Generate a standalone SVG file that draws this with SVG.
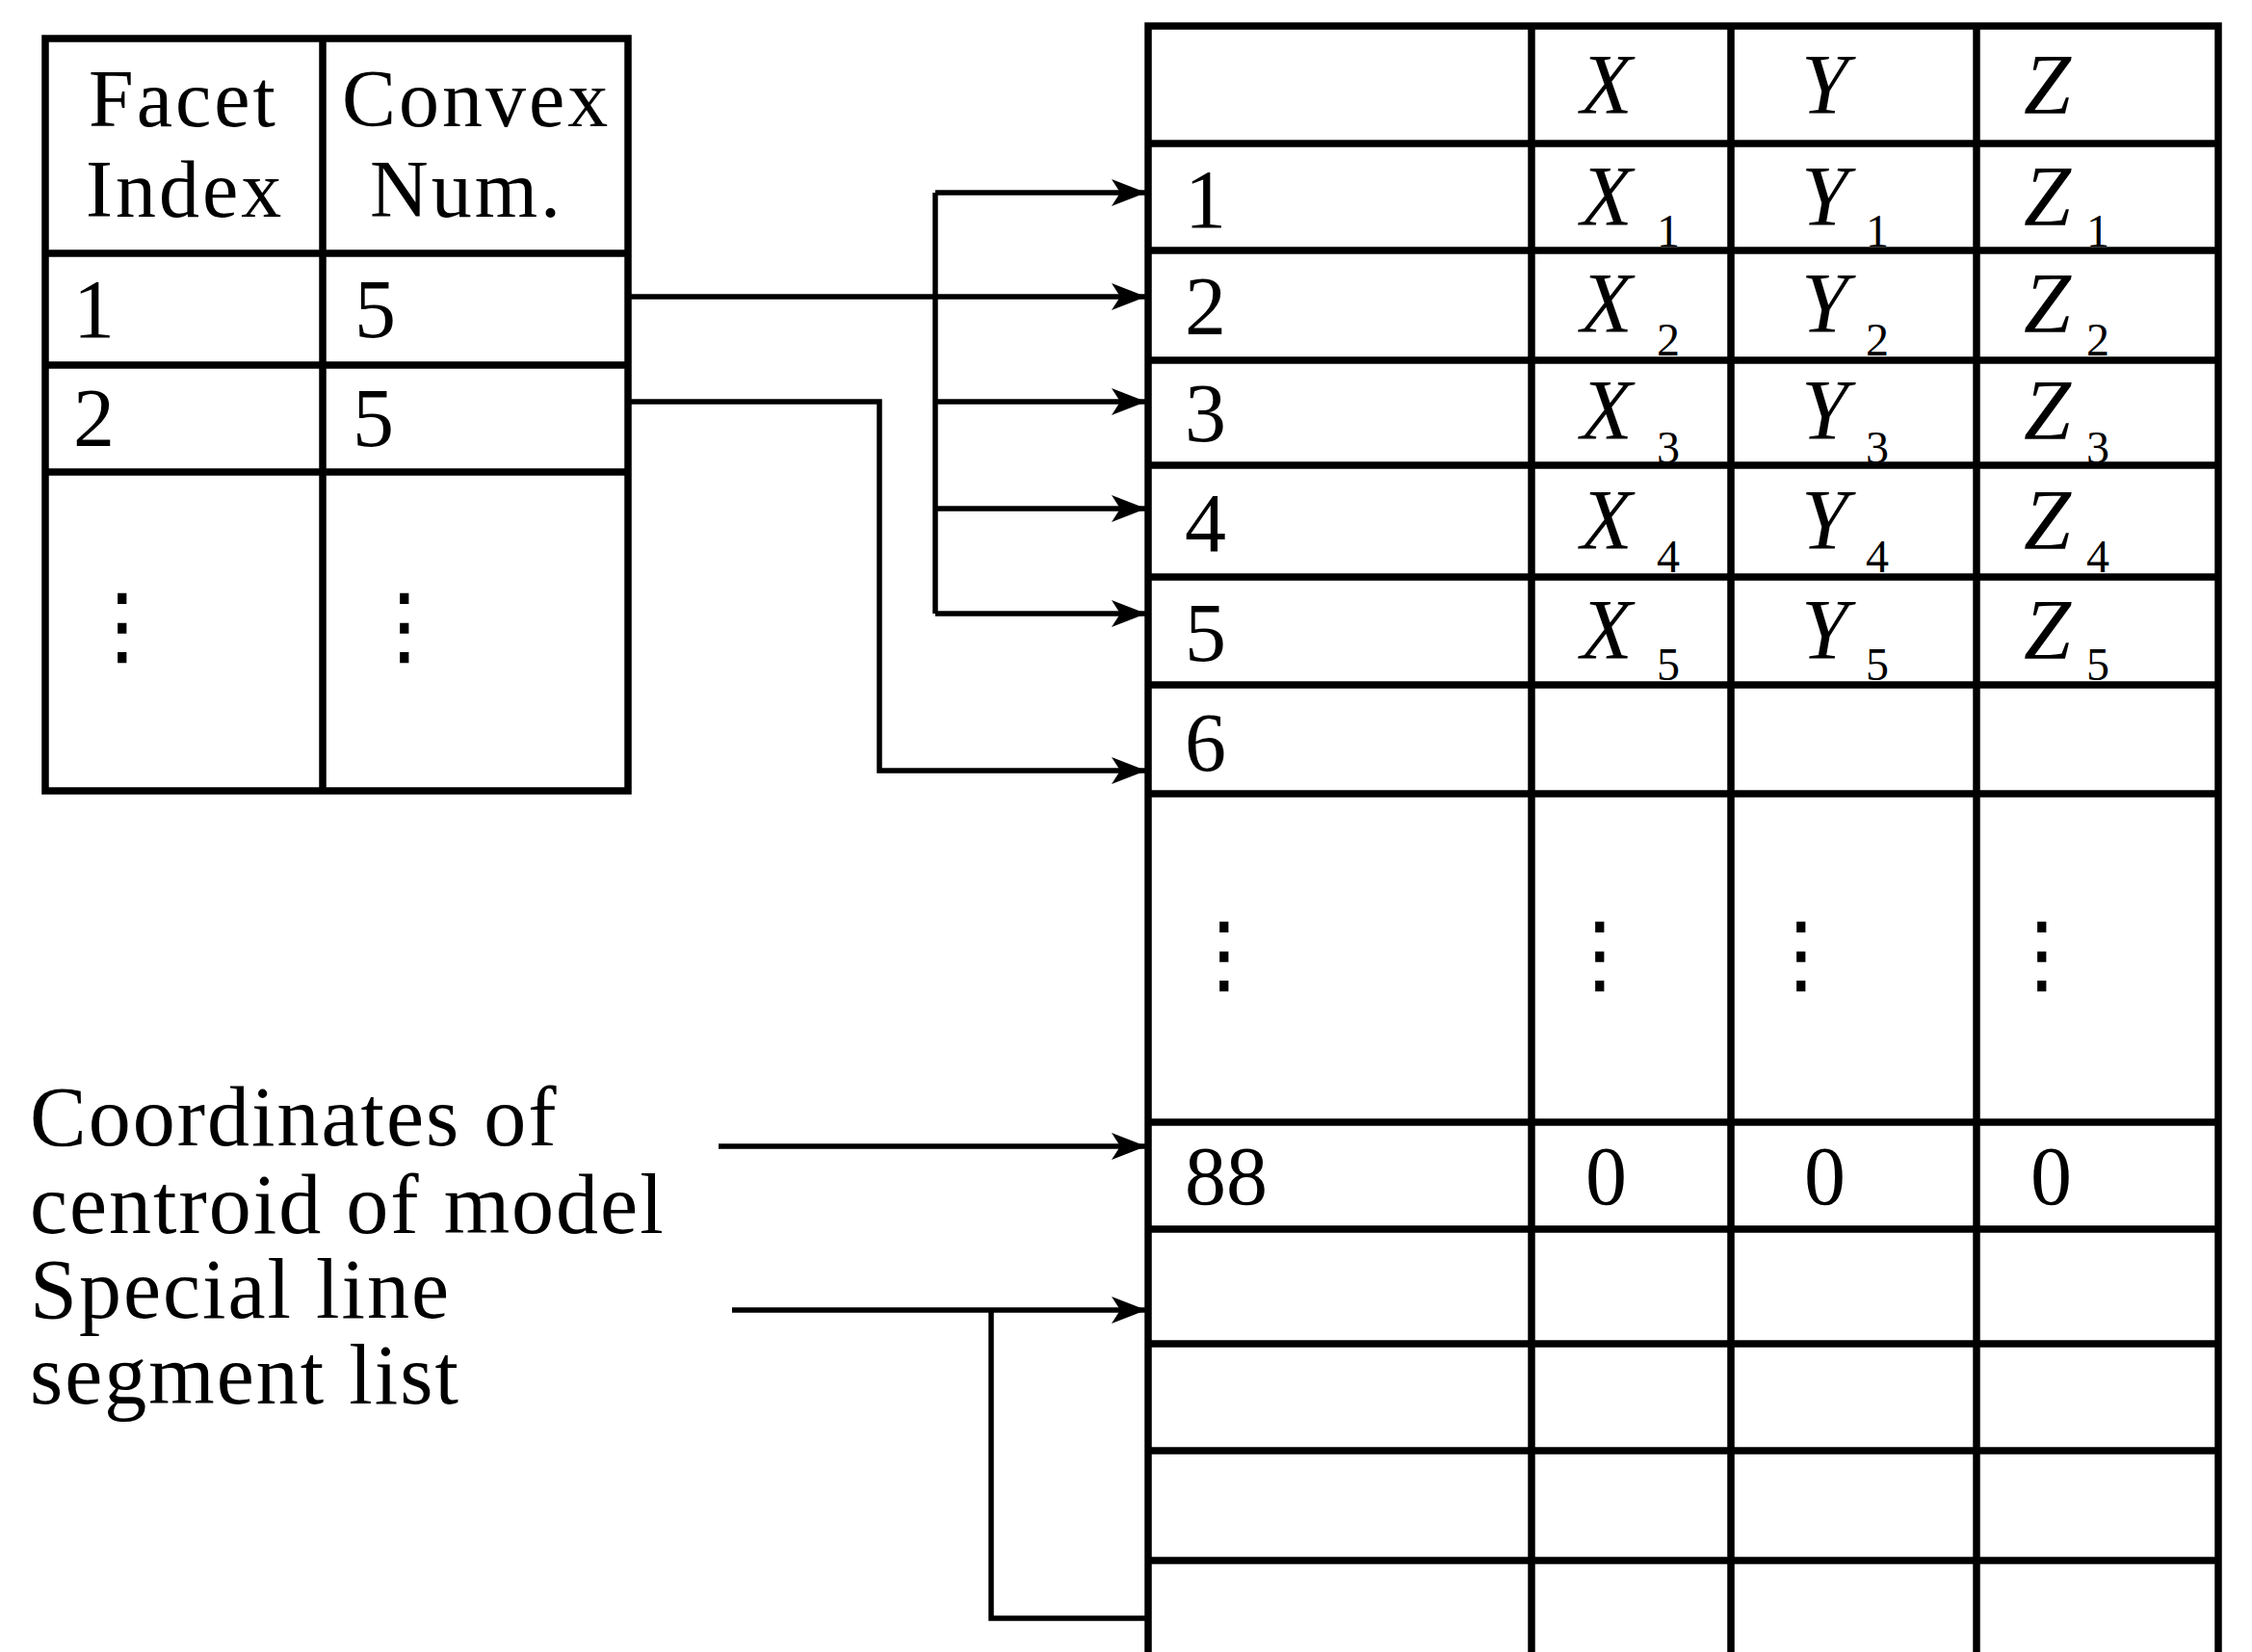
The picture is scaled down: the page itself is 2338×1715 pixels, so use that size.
<svg xmlns="http://www.w3.org/2000/svg" width="2338" height="1715" viewBox="0 0 2338 1715">
  <style>
    .grid { fill: none; stroke: #000; stroke-width: 7.5; }
    .wire { fill: none; stroke: #000; stroke-width: 5.5; }
    .t { font-family: "Liberation Serif", "Times New Roman", serif; font-size: 88px; fill: #000; letter-spacing: 2px; }
    .h { font-family: "Liberation Serif", "Times New Roman", serif; font-size: 84px; fill: #000; letter-spacing: 3px; }
    .n { font-family: "Liberation Serif", "Times New Roman", serif; font-size: 86px; fill: #000; }
    .v { font-family: "Liberation Serif", "Times New Roman", serif; font-size: 88px; font-style: italic; fill: #000; }
    .sub { font-family: "Liberation Serif", "Times New Roman", serif; font-size: 48px; font-style: normal; fill: #000; }
    .dots { font-family: "DejaVu Sans", sans-serif; font-size: 90px; fill: #000; text-anchor: middle; }
  </style>
  <defs>
    <marker id="arrow" markerUnits="userSpaceOnUse" markerWidth="38" markerHeight="30" refX="36" refY="14" orient="auto">
      <path d="M0,0 L36,14 L0,28 L9,14 z" fill="#000"/>
    </marker>
  </defs>
  <rect width="2338" height="1715" fill="#fff"/>

  <!-- facet table -->
  <g id="facet-table">
    <rect class="grid" x="47" y="40" width="605" height="781"/>
    <path class="grid" d="M335,40 V821 M47,263 H652 M47,379 H652 M47,490 H652"/>
    <text class="h" x="92" y="131">Facet</text>
    <text class="h" x="89" y="225">Index</text>
    <text class="h" x="355" y="131">Convex</text>
    <text class="h" x="384" y="225">Num.</text>
    <text class="n" x="76" y="350">1</text>
    <text class="n" x="368" y="350">5</text>
    <text class="n" x="76" y="463">2</text>
    <text class="n" x="366" y="463">5</text>
    <text class="dots" x="127" y="680">⋮</text>
    <text class="dots" x="420" y="680">⋮</text>
  </g>

  <!-- vertex coordinate table -->
  <g id="vertex-table">
    <path class="grid" d="M1192,1715 V27 H2303 V1715"/>
    <path class="grid" d="M1590,27 V1715 M1797,27 V1715 M2052,27 V1715"/>
    <path class="grid" d="M1192,149 H2303 M1192,260 H2303 M1192,374 H2303 M1192,483 H2303 M1192,599 H2303 M1192,711 H2303 M1192,824 H2303 M1192,1165 H2303 M1192,1276 H2303 M1192,1395 H2303 M1192,1506 H2303 M1192,1620 H2303"/>
    <text class="v" x="1641" y="117">X</text>
    <text class="v" x="1870" y="117">Y</text>
    <text class="v" x="2101" y="117">Z</text>

    <text class="n" x="1230" y="236">1</text>
    <text class="n" x="1230" y="347">2</text>
    <text class="n" x="1230" y="458">3</text>
    <text class="n" x="1230" y="572">4</text>
    <text class="n" x="1230" y="686">5</text>
    <text class="n" x="1230" y="800">6</text>
    <text class="n" x="1230" y="1250">88</text>

    <text class="v" x="1641" y="233">X<tspan class="sub" x="1720" y="256">1</tspan></text>
    <text class="v" x="1870" y="233">Y<tspan class="sub" x="1937" y="256">1</tspan></text>
    <text class="v" x="2101" y="233">Z<tspan class="sub" x="2166" y="256">1</tspan></text>

    <text class="v" x="1641" y="344">X<tspan class="sub" x="1720" y="369">2</tspan></text>
    <text class="v" x="1870" y="344">Y<tspan class="sub" x="1937" y="369">2</tspan></text>
    <text class="v" x="2101" y="344">Z<tspan class="sub" x="2166" y="369">2</tspan></text>

    <text class="v" x="1641" y="455">X<tspan class="sub" x="1720" y="481">3</tspan></text>
    <text class="v" x="1870" y="455">Y<tspan class="sub" x="1937" y="481">3</tspan></text>
    <text class="v" x="2101" y="455">Z<tspan class="sub" x="2166" y="481">3</tspan></text>

    <text class="v" x="1641" y="569">X<tspan class="sub" x="1720" y="594">4</tspan></text>
    <text class="v" x="1870" y="569">Y<tspan class="sub" x="1937" y="594">4</tspan></text>
    <text class="v" x="2101" y="569">Z<tspan class="sub" x="2166" y="594">4</tspan></text>

    <text class="v" x="1641" y="683">X<tspan class="sub" x="1720" y="706">5</tspan></text>
    <text class="v" x="1870" y="683">Y<tspan class="sub" x="1937" y="706">5</tspan></text>
    <text class="v" x="2101" y="683">Z<tspan class="sub" x="2166" y="706">5</tspan></text>

    <text class="dots" x="1271" y="1021">⋮</text>
    <text class="dots" x="1661" y="1021">⋮</text>
    <text class="dots" x="1870" y="1021">⋮</text>
    <text class="dots" x="2120" y="1021">⋮</text>

    <text class="n" x="1646" y="1250">0</text>
    <text class="n" x="1873" y="1250">0</text>
    <text class="n" x="2108" y="1250">0</text>
  </g>

  <!-- side labels -->
  <g id="labels">
    <text class="t" x="31" y="1189">Coordinates of</text>
    <text class="t" x="31" y="1280">centroid of model</text>
    <text class="t" x="31" y="1368">Special line</text>
    <text class="t" x="31" y="1457">segment list</text>
  </g>

  <!-- pointers from the facet table and labels into the vertex table -->
  <g id="connectors">
    <path class="wire" d="M652,308 H1190" marker-end="url(#arrow)"/>
    <path class="wire" d="M971,200 V637"/>
    <path class="wire" d="M971,200 H1190" marker-end="url(#arrow)"/>
    <path class="wire" d="M971,417 H1190" marker-end="url(#arrow)"/>
    <path class="wire" d="M971,528 H1190" marker-end="url(#arrow)"/>
    <path class="wire" d="M971,637 H1190" marker-end="url(#arrow)"/>
    <path class="wire" d="M652,417 H913 V800 H1190" marker-end="url(#arrow)"/>
    <path class="wire" d="M746,1190 H1190" marker-end="url(#arrow)"/>
    <path class="wire" d="M760,1360 H1190" marker-end="url(#arrow)"/>
    <path class="wire" d="M1029,1360 V1680 H1190"/>
  </g>
</svg>
